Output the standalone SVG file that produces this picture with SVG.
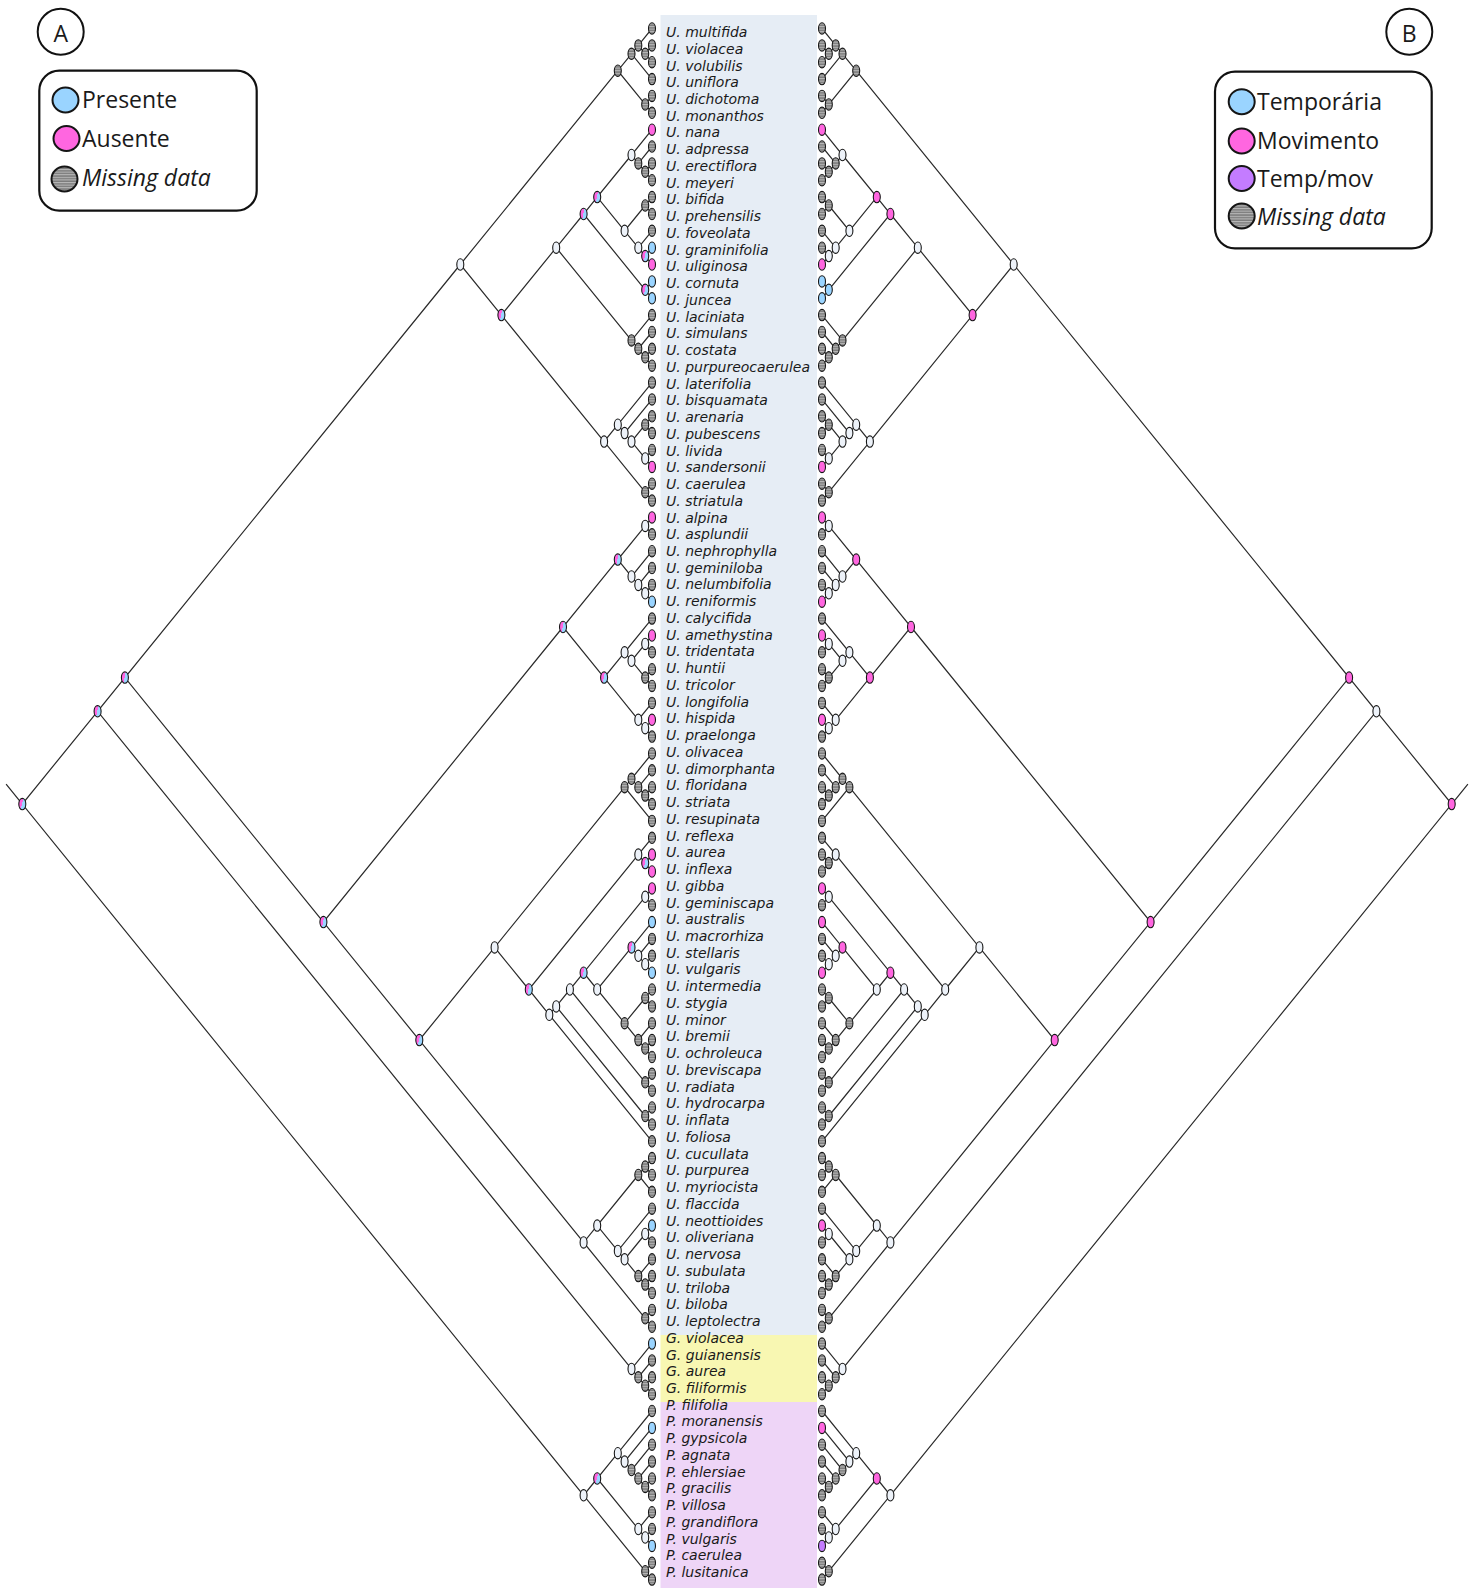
<svg xmlns="http://www.w3.org/2000/svg" xmlns:xlink="http://www.w3.org/1999/xlink" width="1472" height="1588" viewBox="0 0 1472 1588">
<style>
.e{fill:none;stroke:#2a2a2a;stroke-width:1.2}
ellipse{stroke:#151515;stroke-width:1.1;rx:3.5px;ry:5.7px}
.g{fill:url(#st)}.w{fill:#edf2f9}.p{fill:#ff66e0}.b{fill:#9ad4ff}.v{fill:#c47cff}.pb{fill:url(#gpb)}
.lab{font-family:"DejaVu Sans","Open Sans",sans-serif;font-style:italic;font-size:14px;fill:#1a1a1a}
.leg{font-family:"Open Sans","Noto Sans",sans-serif;font-size:23px;fill:#1a1a1a}
.it{font-style:italic}
.box{fill:#fff;stroke:#111;stroke-width:2.2}
ellipse.big{stroke-width:2;rx:13px;ry:12.5px}
</style>
<defs>
<pattern id="st" width="4" height="2.6" patternUnits="userSpaceOnUse"><rect width="4" height="2.6" fill="#7c7c7c"/><rect width="4" height="1.1" fill="#b9b9b9"/></pattern>
<linearGradient id="gpb" x1="0" y1="0" x2="1" y2="0.35"><stop offset="0" stop-color="#ff66e0"/><stop offset="0.56" stop-color="#ff66e0"/><stop offset="0.56" stop-color="#9ad4ff"/><stop offset="1" stop-color="#9ad4ff"/></linearGradient>
</defs>
<rect x="660.5" y="15" width="156.5" height="1320" fill="#e6edf5"/>
<rect x="660.5" y="1335" width="156.5" height="67" fill="#f8f7b2"/>
<rect x="660.5" y="1402" width="156.5" height="186" fill="#eed5f7"/>
<g id="legendA">
<circle cx="60.7" cy="31.7" r="23" fill="#fff" stroke="#111" stroke-width="2"/>
<text x="60.7" y="42" class="leg" text-anchor="middle" font-size="27">A</text>
<rect class="box" x="39.3" y="70.7" width="217.4" height="140" rx="20"/>
<ellipse class="b big" cx="65.5" cy="100"/><text class="leg" x="82" y="108.3">Presente</text>
<ellipse class="p big" cx="66.5" cy="138.5"/><text class="leg" x="82" y="146.7">Ausente</text>
<ellipse class="g big" cx="64.5" cy="179"/><text class="leg it" x="82" y="185.5">Missing data</text>
</g>
<g id="legendB">
<circle cx="1409.3" cy="31.7" r="23" fill="#fff" stroke="#111" stroke-width="2"/>
<text x="1409.3" y="42" class="leg" text-anchor="middle" font-size="27">B</text>
<rect class="box" x="1215" y="71.7" width="216.7" height="176.6" rx="20"/>
<ellipse class="b big" cx="1241.7" cy="101.7"/><text class="leg" x="1257" y="110">Temporária</text>
<ellipse class="p big" cx="1241.7" cy="141"/><text class="leg" x="1257" y="149.3">Movimento</text>
<ellipse class="v big" cx="1241.7" cy="178.5"/><text class="leg" x="1257" y="186.7">Temp/mov</text>
<ellipse class="g big" cx="1241.7" cy="216"/><text class="leg it" x="1257" y="225">Missing data</text>
</g>
<g id="connectors">
<g id="edgesA">
<path class="e" d="M6.1,784.1L22.3,804.1M97.6,711.3L22.3,804.1L583.6,1495.3M124.9,677.6L97.6,711.3L631.5,1368.9M597.2,1478.5L583.6,1495.3L645.2,1571.2M460.3,264.5L124.9,677.6L323.4,922.1M652,1343.6L631.5,1368.9L638.3,1377.3M617.8,70.7L460.3,264.5L501.4,315.1M563,627L323.4,922.1L419.3,1040.1M631.5,53.8L617.8,70.7L645.2,104.4M638.3,45.4L631.5,53.8L652,79.1M652,28.5L638.3,45.4L645.2,53.8M652,45.4L645.2,53.8L652,62.2M652,95.9L645.2,104.4L652,112.8M556.2,247.7L501.4,315.1L604.1,441.6M583.6,214L556.2,247.7L631.5,340.4M597.2,197.1L583.6,214L645.2,289.8M631.5,155L597.2,197.1L624.6,230.8M652,129.7L631.5,155L638.3,163.4M652,146.5L638.3,163.4L645.2,171.8M652,163.4L645.2,171.8L652,180.2M645.2,205.5L624.6,230.8L638.3,247.7M652,197.1L645.2,205.5L652,214M652,230.8L638.3,247.7L645.2,256.1M652,247.7L645.2,256.1L652,264.5M652,281.4L645.2,289.8L652,298.3M652,315.1L631.5,340.4L638.3,348.8M652,332L638.3,348.8L645.2,357.3M652,348.8L645.2,357.3L652,365.7M617.8,424.7L604.1,441.6L645.2,492.2M652,382.6L617.8,424.7L624.6,433.1M652,399.4L624.6,433.1L631.5,441.6M645.2,424.7L631.5,441.6L645.2,458.4M652,416.3L645.2,424.7L652,433.1M652,450L645.2,458.4L652,466.9M652,483.7L645.2,492.2L652,500.6M617.8,559.6L563,627L604.1,677.6M645.2,525.9L617.8,559.6L631.5,576.5M652,517.4L645.2,525.9L652,534.3M652,551.2L631.5,576.5L638.3,584.9M652,568L638.3,584.9L645.2,593.3M652,584.9L645.2,593.3L652,601.7M624.6,652.3L604.1,677.6L638.3,719.8M652,618.6L624.6,652.3L631.5,660.8M645.2,643.9L631.5,660.8L645.2,677.6M652,635.5L645.2,643.9L652,652.3M652,669.2L645.2,677.6L652,686M652,702.9L638.3,719.8L645.2,728.2M652,719.8L645.2,728.2L652,736.6M494.6,947.4L419.3,1040.1L583.6,1242.4M624.6,787.2L494.6,947.4L528.8,989.5M631.5,778.8L624.6,787.2L652,820.9M652,753.5L631.5,778.8L638.3,787.2M652,770.3L638.3,787.2L645.2,795.6M652,787.2L645.2,795.6L652,804.1M638.3,854.6L528.8,989.5L549.3,1014.8M652,837.8L638.3,854.6L645.2,863.1M652,854.6L645.2,863.1L652,871.5M556.2,1006.4L549.3,1014.8L652,1141.3M569.9,989.5L556.2,1006.4L645.2,1116M583.6,972.7L569.9,989.5L645.2,1082.3M645.2,896.8L583.6,972.7L597.2,989.5M652,888.4L645.2,896.8L652,905.2M631.5,947.4L597.2,989.5L624.6,1023.2M652,922.1L631.5,947.4L638.3,955.8M652,938.9L638.3,955.8L645.2,964.2M652,955.8L645.2,964.2L652,972.7M645.2,998L624.6,1023.2L638.3,1040.1M652,989.5L645.2,998L652,1006.4M652,1023.2L638.3,1040.1L645.2,1048.5M652,1040.1L645.2,1048.5L652,1057M652,1073.8L645.2,1082.3L652,1090.7M652,1107.5L645.2,1116L652,1124.4M597.2,1225.6L583.6,1242.4L645.2,1318.3M638.3,1175L597.2,1225.6L617.8,1250.9M645.2,1166.6L638.3,1175L652,1191.8M652,1158.1L645.2,1166.6L652,1175M652,1208.7L617.8,1250.9L624.6,1259.3M645.2,1234L624.6,1259.3L638.3,1276.1M652,1225.6L645.2,1234L652,1242.4M652,1259.3L638.3,1276.1L645.2,1284.6M652,1276.1L645.2,1284.6L652,1293M652,1309.9L645.2,1318.3L652,1326.7M652,1360.4L638.3,1377.3L645.2,1385.7M652,1377.3L645.2,1385.7L652,1394.2M617.8,1453.2L597.2,1478.5L638.3,1529M652,1411L617.8,1453.2L624.6,1461.6M652,1427.9L624.6,1461.6L631.5,1470M652,1444.7L631.5,1470L638.3,1478.5M652,1461.6L638.3,1478.5L645.2,1486.9M652,1478.5L645.2,1486.9L652,1495.3M652,1512.2L638.3,1529L645.2,1537.5M652,1529L645.2,1537.5L652,1545.9M652,1562.8L645.2,1571.2L652,1579.6"/>
</g>
<use xlink:href="#edgesA" transform="matrix(-1 0 0 1 1474 0)"/>
</g>
<g id="clades">
<g id="n1_93"><ellipse class="pb" cx="22.3" cy="804.1"/><ellipse class="p" cx="1451.7" cy="804.1"/></g>
<g id="n1_82"><ellipse class="pb" cx="97.6" cy="711.3"/><ellipse class="w" cx="1376.4" cy="711.3"/></g>
<g id="n83_93"><ellipse class="w" cx="583.6" cy="1495.3"/><ellipse class="w" cx="890.4" cy="1495.3"/></g>
<g id="n1_78"><ellipse class="pb" cx="124.9" cy="677.6"/><ellipse class="p" cx="1349.1" cy="677.6"/></g>
<g id="n79_82"><ellipse class="w" cx="631.5" cy="1368.9"/><ellipse class="w" cx="842.5" cy="1368.9"/></g>
<g id="n1_29"><ellipse class="w" cx="460.3" cy="264.5"/><ellipse class="w" cx="1013.7" cy="264.5"/></g>
<g id="n30_78"><ellipse class="pb" cx="323.4" cy="922.1"/><ellipse class="p" cx="1150.6" cy="922.1"/></g>
<g id="n1_6"><ellipse class="g" cx="617.8" cy="70.7"/><ellipse class="g" cx="856.2" cy="70.7"/></g>
<g id="n7_29"><ellipse class="pb" cx="501.4" cy="315.1"/><ellipse class="p" cx="972.6" cy="315.1"/></g>
<g id="n1_4"><ellipse class="g" cx="631.5" cy="53.8"/><ellipse class="g" cx="842.5" cy="53.8"/></g>
<g id="n1_3"><ellipse class="g" cx="638.3" cy="45.4"/><ellipse class="g" cx="835.7" cy="45.4"/></g>
<g id="n2_3"><ellipse class="g" cx="645.2" cy="53.8"/><ellipse class="g" cx="828.8" cy="53.8"/></g>
<g id="n5_6"><ellipse class="g" cx="645.2" cy="104.4"/><ellipse class="g" cx="828.8" cy="104.4"/></g>
<g id="n7_21"><ellipse class="w" cx="556.2" cy="247.7"/><ellipse class="w" cx="917.8" cy="247.7"/></g>
<g id="n22_29"><ellipse class="w" cx="604.1" cy="441.6"/><ellipse class="w" cx="869.9" cy="441.6"/></g>
<g id="n7_17"><ellipse class="pb" cx="583.6" cy="214"/><ellipse class="p" cx="890.4" cy="214"/></g>
<g id="n18_21"><ellipse class="g" cx="631.5" cy="340.4"/><ellipse class="g" cx="842.5" cy="340.4"/></g>
<g id="n7_15"><ellipse class="pb" cx="597.2" cy="197.1"/><ellipse class="p" cx="876.8" cy="197.1"/></g>
<g id="n16_17"><ellipse class="pb" cx="645.2" cy="289.8"/><ellipse class="b" cx="828.8" cy="289.8"/></g>
<g id="n7_10"><ellipse class="w" cx="631.5" cy="155"/><ellipse class="w" cx="842.5" cy="155"/></g>
<g id="n8_10"><ellipse class="g" cx="638.3" cy="163.4"/><ellipse class="g" cx="835.7" cy="163.4"/></g>
<g id="n9_10"><ellipse class="g" cx="645.2" cy="171.8"/><ellipse class="g" cx="828.8" cy="171.8"/></g>
<g id="n11_15"><ellipse class="w" cx="624.6" cy="230.8"/><ellipse class="w" cx="849.4" cy="230.8"/></g>
<g id="n11_12"><ellipse class="g" cx="645.2" cy="205.5"/><ellipse class="g" cx="828.8" cy="205.5"/></g>
<g id="n13_15"><ellipse class="w" cx="638.3" cy="247.7"/><ellipse class="w" cx="835.7" cy="247.7"/></g>
<g id="n14_15"><ellipse class="pb" cx="645.2" cy="256.1"/><ellipse class="w" cx="828.8" cy="256.1"/></g>
<g id="n19_21"><ellipse class="g" cx="638.3" cy="348.8"/><ellipse class="g" cx="835.7" cy="348.8"/></g>
<g id="n20_21"><ellipse class="g" cx="645.2" cy="357.3"/><ellipse class="g" cx="828.8" cy="357.3"/></g>
<g id="n22_27"><ellipse class="w" cx="617.8" cy="424.7"/><ellipse class="w" cx="856.2" cy="424.7"/></g>
<g id="n28_29"><ellipse class="g" cx="645.2" cy="492.2"/><ellipse class="g" cx="828.8" cy="492.2"/></g>
<g id="n23_27"><ellipse class="w" cx="624.6" cy="433.1"/><ellipse class="w" cx="849.4" cy="433.1"/></g>
<g id="n24_27"><ellipse class="w" cx="631.5" cy="441.6"/><ellipse class="w" cx="842.5" cy="441.6"/></g>
<g id="n24_25"><ellipse class="g" cx="645.2" cy="424.7"/><ellipse class="g" cx="828.8" cy="424.7"/></g>
<g id="n26_27"><ellipse class="w" cx="645.2" cy="458.4"/><ellipse class="w" cx="828.8" cy="458.4"/></g>
<g id="n30_43"><ellipse class="pb" cx="563" cy="627"/><ellipse class="p" cx="911" cy="627"/></g>
<g id="n44_78"><ellipse class="pb" cx="419.3" cy="1040.1"/><ellipse class="p" cx="1054.7" cy="1040.1"/></g>
<g id="n30_35"><ellipse class="pb" cx="617.8" cy="559.6"/><ellipse class="p" cx="856.2" cy="559.6"/></g>
<g id="n36_43"><ellipse class="pb" cx="604.1" cy="677.6"/><ellipse class="p" cx="869.9" cy="677.6"/></g>
<g id="n30_31"><ellipse class="w" cx="645.2" cy="525.9"/><ellipse class="w" cx="828.8" cy="525.9"/></g>
<g id="n32_35"><ellipse class="w" cx="631.5" cy="576.5"/><ellipse class="w" cx="842.5" cy="576.5"/></g>
<g id="n33_35"><ellipse class="w" cx="638.3" cy="584.9"/><ellipse class="w" cx="835.7" cy="584.9"/></g>
<g id="n34_35"><ellipse class="w" cx="645.2" cy="593.3"/><ellipse class="w" cx="828.8" cy="593.3"/></g>
<g id="n36_40"><ellipse class="w" cx="624.6" cy="652.3"/><ellipse class="w" cx="849.4" cy="652.3"/></g>
<g id="n37_40"><ellipse class="w" cx="631.5" cy="660.8"/><ellipse class="w" cx="842.5" cy="660.8"/></g>
<g id="n37_38"><ellipse class="w" cx="645.2" cy="643.9"/><ellipse class="w" cx="828.8" cy="643.9"/></g>
<g id="n39_40"><ellipse class="g" cx="645.2" cy="677.6"/><ellipse class="g" cx="828.8" cy="677.6"/></g>
<g id="n41_43"><ellipse class="w" cx="638.3" cy="719.8"/><ellipse class="w" cx="835.7" cy="719.8"/></g>
<g id="n42_43"><ellipse class="w" cx="645.2" cy="728.2"/><ellipse class="w" cx="828.8" cy="728.2"/></g>
<g id="n44_67"><ellipse class="w" cx="494.6" cy="947.4"/><ellipse class="w" cx="979.4" cy="947.4"/></g>
<g id="n68_78"><ellipse class="w" cx="583.6" cy="1242.4"/><ellipse class="w" cx="890.4" cy="1242.4"/></g>
<g id="n44_48"><ellipse class="g" cx="624.6" cy="787.2"/><ellipse class="g" cx="849.4" cy="787.2"/></g>
<g id="n44_47"><ellipse class="g" cx="631.5" cy="778.8"/><ellipse class="g" cx="842.5" cy="778.8"/></g>
<g id="n45_47"><ellipse class="g" cx="638.3" cy="787.2"/><ellipse class="g" cx="835.7" cy="787.2"/></g>
<g id="n46_47"><ellipse class="g" cx="645.2" cy="795.6"/><ellipse class="g" cx="828.8" cy="795.6"/></g>
<g id="n49_67"><ellipse class="pb" cx="528.8" cy="989.5"/><ellipse class="w" cx="945.2" cy="989.5"/></g>
<g id="n49_51"><ellipse class="w" cx="638.3" cy="854.6"/><ellipse class="w" cx="835.7" cy="854.6"/></g>
<g id="n50_51"><ellipse class="pb" cx="645.2" cy="863.1"/><ellipse class="g" cx="828.8" cy="863.1"/></g>
<g id="n52_67"><ellipse class="w" cx="549.3" cy="1014.8"/><ellipse class="w" cx="924.7" cy="1014.8"/></g>
<g id="n52_66"><ellipse class="w" cx="556.2" cy="1006.4"/><ellipse class="w" cx="917.8" cy="1006.4"/></g>
<g id="n52_64"><ellipse class="w" cx="569.9" cy="989.5"/><ellipse class="w" cx="904.1" cy="989.5"/></g>
<g id="n65_66"><ellipse class="g" cx="645.2" cy="1116"/><ellipse class="g" cx="828.8" cy="1116"/></g>
<g id="n52_62"><ellipse class="pb" cx="583.6" cy="972.7"/><ellipse class="p" cx="890.4" cy="972.7"/></g>
<g id="n63_64"><ellipse class="g" cx="645.2" cy="1082.3"/><ellipse class="g" cx="828.8" cy="1082.3"/></g>
<g id="n52_53"><ellipse class="w" cx="645.2" cy="896.8"/><ellipse class="w" cx="828.8" cy="896.8"/></g>
<g id="n54_62"><ellipse class="w" cx="597.2" cy="989.5"/><ellipse class="w" cx="876.8" cy="989.5"/></g>
<g id="n54_57"><ellipse class="pb" cx="631.5" cy="947.4"/><ellipse class="p" cx="842.5" cy="947.4"/></g>
<g id="n55_57"><ellipse class="w" cx="638.3" cy="955.8"/><ellipse class="w" cx="835.7" cy="955.8"/></g>
<g id="n56_57"><ellipse class="w" cx="645.2" cy="964.2"/><ellipse class="w" cx="828.8" cy="964.2"/></g>
<g id="n58_62"><ellipse class="g" cx="624.6" cy="1023.2"/><ellipse class="g" cx="849.4" cy="1023.2"/></g>
<g id="n58_59"><ellipse class="g" cx="645.2" cy="998"/><ellipse class="g" cx="828.8" cy="998"/></g>
<g id="n60_62"><ellipse class="g" cx="638.3" cy="1040.1"/><ellipse class="g" cx="835.7" cy="1040.1"/></g>
<g id="n61_62"><ellipse class="g" cx="645.2" cy="1048.5"/><ellipse class="g" cx="828.8" cy="1048.5"/></g>
<g id="n68_76"><ellipse class="w" cx="597.2" cy="1225.6"/><ellipse class="w" cx="876.8" cy="1225.6"/></g>
<g id="n77_78"><ellipse class="g" cx="645.2" cy="1318.3"/><ellipse class="g" cx="828.8" cy="1318.3"/></g>
<g id="n68_70"><ellipse class="g" cx="638.3" cy="1175"/><ellipse class="g" cx="835.7" cy="1175"/></g>
<g id="n68_69"><ellipse class="g" cx="645.2" cy="1166.6"/><ellipse class="g" cx="828.8" cy="1166.6"/></g>
<g id="n71_76"><ellipse class="w" cx="617.8" cy="1250.9"/><ellipse class="w" cx="856.2" cy="1250.9"/></g>
<g id="n72_76"><ellipse class="w" cx="624.6" cy="1259.3"/><ellipse class="w" cx="849.4" cy="1259.3"/></g>
<g id="n72_73"><ellipse class="w" cx="645.2" cy="1234"/><ellipse class="w" cx="828.8" cy="1234"/></g>
<g id="n74_76"><ellipse class="g" cx="638.3" cy="1276.1"/><ellipse class="g" cx="835.7" cy="1276.1"/></g>
<g id="n75_76"><ellipse class="g" cx="645.2" cy="1284.6"/><ellipse class="g" cx="828.8" cy="1284.6"/></g>
<g id="n80_82"><ellipse class="g" cx="638.3" cy="1377.3"/><ellipse class="g" cx="835.7" cy="1377.3"/></g>
<g id="n81_82"><ellipse class="g" cx="645.2" cy="1385.7"/><ellipse class="g" cx="828.8" cy="1385.7"/></g>
<g id="n83_91"><ellipse class="pb" cx="597.2" cy="1478.5"/><ellipse class="p" cx="876.8" cy="1478.5"/></g>
<g id="n92_93"><ellipse class="g" cx="645.2" cy="1571.2"/><ellipse class="g" cx="828.8" cy="1571.2"/></g>
<g id="n83_88"><ellipse class="w" cx="617.8" cy="1453.2"/><ellipse class="w" cx="856.2" cy="1453.2"/></g>
<g id="n84_88"><ellipse class="w" cx="624.6" cy="1461.6"/><ellipse class="w" cx="849.4" cy="1461.6"/></g>
<g id="n85_88"><ellipse class="g" cx="631.5" cy="1470"/><ellipse class="g" cx="842.5" cy="1470"/></g>
<g id="n86_88"><ellipse class="g" cx="638.3" cy="1478.5"/><ellipse class="g" cx="835.7" cy="1478.5"/></g>
<g id="n87_88"><ellipse class="g" cx="645.2" cy="1486.9"/><ellipse class="g" cx="828.8" cy="1486.9"/></g>
<g id="n89_91"><ellipse class="w" cx="638.3" cy="1529"/><ellipse class="w" cx="835.7" cy="1529"/></g>
<g id="n90_91"><ellipse class="w" cx="645.2" cy="1537.5"/><ellipse class="w" cx="828.8" cy="1537.5"/></g>
</g>
<g id="taxa" class="lab">
<g id="t01"><ellipse class="g" cx="652" cy="28.5"/><text x="666" y="37">U. multifida</text><ellipse class="g" cx="822" cy="28.5"/></g>
<g id="t02"><ellipse class="g" cx="652" cy="45.4"/><text x="666" y="53.7">U. violacea</text><ellipse class="g" cx="822" cy="45.4"/></g>
<g id="t03"><ellipse class="g" cx="652" cy="62.2"/><text x="666" y="70.5">U. volubilis</text><ellipse class="g" cx="822" cy="62.2"/></g>
<g id="t04"><ellipse class="g" cx="652" cy="79.1"/><text x="666" y="87.2">U. uniflora</text><ellipse class="g" cx="822" cy="79.1"/></g>
<g id="t05"><ellipse class="g" cx="652" cy="95.9"/><text x="666" y="104">U. dichotoma</text><ellipse class="g" cx="822" cy="95.9"/></g>
<g id="t06"><ellipse class="g" cx="652" cy="112.8"/><text x="666" y="120.7">U. monanthos</text><ellipse class="g" cx="822" cy="112.8"/></g>
<g id="t07"><ellipse class="p" cx="652" cy="129.7"/><text x="666" y="137.4">U. nana</text><ellipse class="p" cx="822" cy="129.7"/></g>
<g id="t08"><ellipse class="g" cx="652" cy="146.5"/><text x="666" y="154.2">U. adpressa</text><ellipse class="g" cx="822" cy="146.5"/></g>
<g id="t09"><ellipse class="g" cx="652" cy="163.4"/><text x="666" y="170.9">U. erectiflora</text><ellipse class="g" cx="822" cy="163.4"/></g>
<g id="t10"><ellipse class="g" cx="652" cy="180.2"/><text x="666" y="187.7">U. meyeri</text><ellipse class="g" cx="822" cy="180.2"/></g>
<g id="t11"><ellipse class="g" cx="652" cy="197.1"/><text x="666" y="204.4">U. bifida</text><ellipse class="g" cx="822" cy="197.1"/></g>
<g id="t12"><ellipse class="g" cx="652" cy="214"/><text x="666" y="221.1">U. prehensilis</text><ellipse class="g" cx="822" cy="214"/></g>
<g id="t13"><ellipse class="g" cx="652" cy="230.8"/><text x="666" y="237.9">U. foveolata</text><ellipse class="g" cx="822" cy="230.8"/></g>
<g id="t14"><ellipse class="b" cx="652" cy="247.7"/><text x="666" y="254.6">U. graminifolia</text><ellipse class="g" cx="822" cy="247.7"/></g>
<g id="t15"><ellipse class="p" cx="652" cy="264.5"/><text x="666" y="271.4">U. uliginosa</text><ellipse class="p" cx="822" cy="264.5"/></g>
<g id="t16"><ellipse class="b" cx="652" cy="281.4"/><text x="666" y="288.1">U. cornuta</text><ellipse class="b" cx="822" cy="281.4"/></g>
<g id="t17"><ellipse class="b" cx="652" cy="298.3"/><text x="666" y="304.8">U. juncea</text><ellipse class="b" cx="822" cy="298.3"/></g>
<g id="t18"><ellipse class="g" cx="652" cy="315.1"/><text x="666" y="321.6">U. laciniata</text><ellipse class="g" cx="822" cy="315.1"/></g>
<g id="t19"><ellipse class="g" cx="652" cy="332"/><text x="666" y="338.3">U. simulans</text><ellipse class="g" cx="822" cy="332"/></g>
<g id="t20"><ellipse class="g" cx="652" cy="348.8"/><text x="666" y="355.1">U. costata</text><ellipse class="g" cx="822" cy="348.8"/></g>
<g id="t21"><ellipse class="g" cx="652" cy="365.7"/><text x="666" y="371.8">U. purpureocaerulea</text><ellipse class="g" cx="822" cy="365.7"/></g>
<g id="t22"><ellipse class="g" cx="652" cy="382.6"/><text x="666" y="388.5">U. laterifolia</text><ellipse class="g" cx="822" cy="382.6"/></g>
<g id="t23"><ellipse class="g" cx="652" cy="399.4"/><text x="666" y="405.3">U. bisquamata</text><ellipse class="g" cx="822" cy="399.4"/></g>
<g id="t24"><ellipse class="g" cx="652" cy="416.3"/><text x="666" y="422">U. arenaria</text><ellipse class="g" cx="822" cy="416.3"/></g>
<g id="t25"><ellipse class="g" cx="652" cy="433.1"/><text x="666" y="438.8">U. pubescens</text><ellipse class="g" cx="822" cy="433.1"/></g>
<g id="t26"><ellipse class="g" cx="652" cy="450"/><text x="666" y="455.5">U. livida</text><ellipse class="g" cx="822" cy="450"/></g>
<g id="t27"><ellipse class="p" cx="652" cy="466.9"/><text x="666" y="472.2">U. sandersonii</text><ellipse class="p" cx="822" cy="466.9"/></g>
<g id="t28"><ellipse class="g" cx="652" cy="483.7"/><text x="666" y="489">U. caerulea</text><ellipse class="g" cx="822" cy="483.7"/></g>
<g id="t29"><ellipse class="g" cx="652" cy="500.6"/><text x="666" y="505.7">U. striatula</text><ellipse class="g" cx="822" cy="500.6"/></g>
<g id="t30"><ellipse class="p" cx="652" cy="517.4"/><text x="666" y="522.5">U. alpina</text><ellipse class="p" cx="822" cy="517.4"/></g>
<g id="t31"><ellipse class="g" cx="652" cy="534.3"/><text x="666" y="539.2">U. asplundii</text><ellipse class="g" cx="822" cy="534.3"/></g>
<g id="t32"><ellipse class="g" cx="652" cy="551.2"/><text x="666" y="555.9">U. nephrophylla</text><ellipse class="g" cx="822" cy="551.2"/></g>
<g id="t33"><ellipse class="g" cx="652" cy="568"/><text x="666" y="572.7">U. geminiloba</text><ellipse class="g" cx="822" cy="568"/></g>
<g id="t34"><ellipse class="g" cx="652" cy="584.9"/><text x="666" y="589.4">U. nelumbifolia</text><ellipse class="g" cx="822" cy="584.9"/></g>
<g id="t35"><ellipse class="b" cx="652" cy="601.7"/><text x="666" y="606.2">U. reniformis</text><ellipse class="p" cx="822" cy="601.7"/></g>
<g id="t36"><ellipse class="g" cx="652" cy="618.6"/><text x="666" y="622.9">U. calycifida</text><ellipse class="g" cx="822" cy="618.6"/></g>
<g id="t37"><ellipse class="p" cx="652" cy="635.5"/><text x="666" y="639.6">U. amethystina</text><ellipse class="p" cx="822" cy="635.5"/></g>
<g id="t38"><ellipse class="g" cx="652" cy="652.3"/><text x="666" y="656.4">U. tridentata</text><ellipse class="g" cx="822" cy="652.3"/></g>
<g id="t39"><ellipse class="g" cx="652" cy="669.2"/><text x="666" y="673.1">U. huntii</text><ellipse class="g" cx="822" cy="669.2"/></g>
<g id="t40"><ellipse class="g" cx="652" cy="686"/><text x="666" y="689.9">U. tricolor</text><ellipse class="g" cx="822" cy="686"/></g>
<g id="t41"><ellipse class="g" cx="652" cy="702.9"/><text x="666" y="706.6">U. longifolia</text><ellipse class="g" cx="822" cy="702.9"/></g>
<g id="t42"><ellipse class="p" cx="652" cy="719.8"/><text x="666" y="723.3">U. hispida</text><ellipse class="p" cx="822" cy="719.8"/></g>
<g id="t43"><ellipse class="g" cx="652" cy="736.6"/><text x="666" y="740.1">U. praelonga</text><ellipse class="g" cx="822" cy="736.6"/></g>
<g id="t44"><ellipse class="g" cx="652" cy="753.5"/><text x="666" y="756.8">U. olivacea</text><ellipse class="g" cx="822" cy="753.5"/></g>
<g id="t45"><ellipse class="g" cx="652" cy="770.3"/><text x="666" y="773.6">U. dimorphanta</text><ellipse class="g" cx="822" cy="770.3"/></g>
<g id="t46"><ellipse class="g" cx="652" cy="787.2"/><text x="666" y="790.3">U. floridana</text><ellipse class="g" cx="822" cy="787.2"/></g>
<g id="t47"><ellipse class="g" cx="652" cy="804.1"/><text x="666" y="807">U. striata</text><ellipse class="g" cx="822" cy="804.1"/></g>
<g id="t48"><ellipse class="g" cx="652" cy="820.9"/><text x="666" y="823.8">U. resupinata</text><ellipse class="g" cx="822" cy="820.9"/></g>
<g id="t49"><ellipse class="g" cx="652" cy="837.8"/><text x="666" y="840.5">U. reflexa</text><ellipse class="g" cx="822" cy="837.8"/></g>
<g id="t50"><ellipse class="p" cx="652" cy="854.6"/><text x="666" y="857.3">U. aurea</text><ellipse class="g" cx="822" cy="854.6"/></g>
<g id="t51"><ellipse class="p" cx="652" cy="871.5"/><text x="666" y="874">U. inflexa</text><ellipse class="g" cx="822" cy="871.5"/></g>
<g id="t52"><ellipse class="p" cx="652" cy="888.4"/><text x="666" y="890.7">U. gibba</text><ellipse class="p" cx="822" cy="888.4"/></g>
<g id="t53"><ellipse class="g" cx="652" cy="905.2"/><text x="666" y="907.5">U. geminiscapa</text><ellipse class="g" cx="822" cy="905.2"/></g>
<g id="t54"><ellipse class="b" cx="652" cy="922.1"/><text x="666" y="924.2">U. australis</text><ellipse class="p" cx="822" cy="922.1"/></g>
<g id="t55"><ellipse class="g" cx="652" cy="938.9"/><text x="666" y="941">U. macrorhiza</text><ellipse class="g" cx="822" cy="938.9"/></g>
<g id="t56"><ellipse class="g" cx="652" cy="955.8"/><text x="666" y="957.7">U. stellaris</text><ellipse class="g" cx="822" cy="955.8"/></g>
<g id="t57"><ellipse class="b" cx="652" cy="972.7"/><text x="666" y="974.4">U. vulgaris</text><ellipse class="p" cx="822" cy="972.7"/></g>
<g id="t58"><ellipse class="g" cx="652" cy="989.5"/><text x="666" y="991.2">U. intermedia</text><ellipse class="g" cx="822" cy="989.5"/></g>
<g id="t59"><ellipse class="g" cx="652" cy="1006.4"/><text x="666" y="1007.9">U. stygia</text><ellipse class="g" cx="822" cy="1006.4"/></g>
<g id="t60"><ellipse class="g" cx="652" cy="1023.2"/><text x="666" y="1024.7">U. minor</text><ellipse class="g" cx="822" cy="1023.2"/></g>
<g id="t61"><ellipse class="g" cx="652" cy="1040.1"/><text x="666" y="1041.4">U. bremii</text><ellipse class="g" cx="822" cy="1040.1"/></g>
<g id="t62"><ellipse class="g" cx="652" cy="1057"/><text x="666" y="1058.1">U. ochroleuca</text><ellipse class="g" cx="822" cy="1057"/></g>
<g id="t63"><ellipse class="g" cx="652" cy="1073.8"/><text x="666" y="1074.9">U. breviscapa</text><ellipse class="g" cx="822" cy="1073.8"/></g>
<g id="t64"><ellipse class="g" cx="652" cy="1090.7"/><text x="666" y="1091.6">U. radiata</text><ellipse class="g" cx="822" cy="1090.7"/></g>
<g id="t65"><ellipse class="g" cx="652" cy="1107.5"/><text x="666" y="1108.4">U. hydrocarpa</text><ellipse class="g" cx="822" cy="1107.5"/></g>
<g id="t66"><ellipse class="g" cx="652" cy="1124.4"/><text x="666" y="1125.1">U. inflata</text><ellipse class="g" cx="822" cy="1124.4"/></g>
<g id="t67"><ellipse class="g" cx="652" cy="1141.3"/><text x="666" y="1141.8">U. foliosa</text><ellipse class="g" cx="822" cy="1141.3"/></g>
<g id="t68"><ellipse class="g" cx="652" cy="1158.1"/><text x="666" y="1158.6">U. cucullata</text><ellipse class="g" cx="822" cy="1158.1"/></g>
<g id="t69"><ellipse class="g" cx="652" cy="1175"/><text x="666" y="1175.3">U. purpurea</text><ellipse class="g" cx="822" cy="1175"/></g>
<g id="t70"><ellipse class="g" cx="652" cy="1191.8"/><text x="666" y="1192.1">U. myriocista</text><ellipse class="g" cx="822" cy="1191.8"/></g>
<g id="t71"><ellipse class="g" cx="652" cy="1208.7"/><text x="666" y="1208.8">U. flaccida</text><ellipse class="g" cx="822" cy="1208.7"/></g>
<g id="t72"><ellipse class="b" cx="652" cy="1225.6"/><text x="666" y="1225.5">U. neottioides</text><ellipse class="p" cx="822" cy="1225.6"/></g>
<g id="t73"><ellipse class="g" cx="652" cy="1242.4"/><text x="666" y="1242.3">U. oliveriana</text><ellipse class="g" cx="822" cy="1242.4"/></g>
<g id="t74"><ellipse class="g" cx="652" cy="1259.3"/><text x="666" y="1259">U. nervosa</text><ellipse class="g" cx="822" cy="1259.3"/></g>
<g id="t75"><ellipse class="g" cx="652" cy="1276.1"/><text x="666" y="1275.8">U. subulata</text><ellipse class="g" cx="822" cy="1276.1"/></g>
<g id="t76"><ellipse class="g" cx="652" cy="1293"/><text x="666" y="1292.5">U. triloba</text><ellipse class="g" cx="822" cy="1293"/></g>
<g id="t77"><ellipse class="g" cx="652" cy="1309.9"/><text x="666" y="1309.2">U. biloba</text><ellipse class="g" cx="822" cy="1309.9"/></g>
<g id="t78"><ellipse class="g" cx="652" cy="1326.7"/><text x="666" y="1326">U. leptolectra</text><ellipse class="g" cx="822" cy="1326.7"/></g>
<g id="t79"><ellipse class="b" cx="652" cy="1343.6"/><text x="666" y="1342.7">G. violacea</text><ellipse class="g" cx="822" cy="1343.6"/></g>
<g id="t80"><ellipse class="g" cx="652" cy="1360.4"/><text x="666" y="1359.5">G. guianensis</text><ellipse class="g" cx="822" cy="1360.4"/></g>
<g id="t81"><ellipse class="g" cx="652" cy="1377.3"/><text x="666" y="1376.2">G. aurea</text><ellipse class="g" cx="822" cy="1377.3"/></g>
<g id="t82"><ellipse class="g" cx="652" cy="1394.2"/><text x="666" y="1392.9">G. filiformis</text><ellipse class="g" cx="822" cy="1394.2"/></g>
<g id="t83"><ellipse class="g" cx="652" cy="1411"/><text x="666" y="1409.7">P. filifolia</text><ellipse class="g" cx="822" cy="1411"/></g>
<g id="t84"><ellipse class="b" cx="652" cy="1427.9"/><text x="666" y="1426.4">P. moranensis</text><ellipse class="p" cx="822" cy="1427.9"/></g>
<g id="t85"><ellipse class="g" cx="652" cy="1444.7"/><text x="666" y="1443.2">P. gypsicola</text><ellipse class="g" cx="822" cy="1444.7"/></g>
<g id="t86"><ellipse class="g" cx="652" cy="1461.6"/><text x="666" y="1459.9">P. agnata</text><ellipse class="g" cx="822" cy="1461.6"/></g>
<g id="t87"><ellipse class="g" cx="652" cy="1478.5"/><text x="666" y="1476.6">P. ehlersiae</text><ellipse class="g" cx="822" cy="1478.5"/></g>
<g id="t88"><ellipse class="g" cx="652" cy="1495.3"/><text x="666" y="1493.4">P. gracilis</text><ellipse class="g" cx="822" cy="1495.3"/></g>
<g id="t89"><ellipse class="g" cx="652" cy="1512.2"/><text x="666" y="1510.1">P. villosa</text><ellipse class="g" cx="822" cy="1512.2"/></g>
<g id="t90"><ellipse class="g" cx="652" cy="1529"/><text x="666" y="1526.9">P. grandiflora</text><ellipse class="g" cx="822" cy="1529"/></g>
<g id="t91"><ellipse class="b" cx="652" cy="1545.9"/><text x="666" y="1543.6">P. vulgaris</text><ellipse class="v" cx="822" cy="1545.9"/></g>
<g id="t92"><ellipse class="g" cx="652" cy="1562.8"/><text x="666" y="1560.3">P. caerulea</text><ellipse class="g" cx="822" cy="1562.8"/></g>
<g id="t93"><ellipse class="g" cx="652" cy="1579.6"/><text x="666" y="1577.1">P. lusitanica</text><ellipse class="g" cx="822" cy="1579.6"/></g>
</g>
</svg>
